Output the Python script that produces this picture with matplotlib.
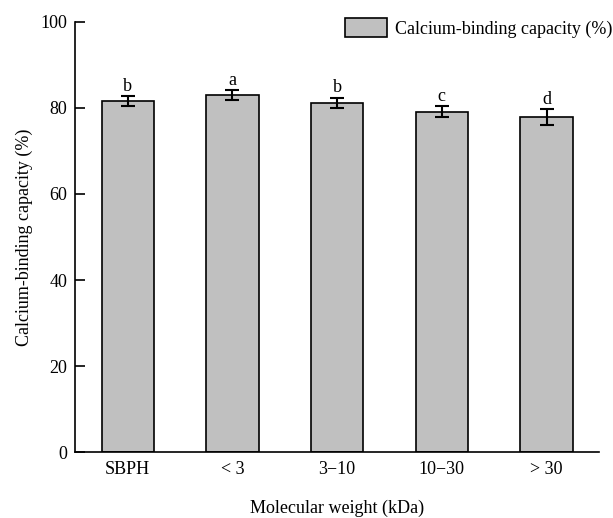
import matplotlib
matplotlib.use("Agg")
import matplotlib.pyplot as plt
import numpy as np

categories = ["SBPH", "< 3", "3\u221210", "10\u221230", "> 30"]
values = [81.6, 82.9, 81.2, 79.1, 77.9]
errors = [1.16, 1.16, 1.16, 1.24, 1.8]
letters = ["b", "a", "b", "c", "d"]

plt.rcParams['font.family'] = ['Liberation Serif', 'DejaVu Serif']
plt.rcParams['font.size'] = 13

fig = plt.figure(figsize=(6.13, 5.18), dpi=100)
ax = fig.add_axes([0.123, 0.127, 0.854, 0.831])
x = np.arange(len(categories))
ax.bar(x, values, width=0.5, color='#c0c0c0', edgecolor='black', linewidth=1.2,
       label='Calcium-binding capacity (%)', zorder=2)
ax.errorbar(x, values, yerr=errors, fmt='none', ecolor='black', elinewidth=1.5,
            capsize=5, capthick=1.5, zorder=3)
for xi, v, e, l in zip(x, values, errors, letters):
    ax.text(xi, v + e + 0.3, l, ha='center', va='bottom', fontsize=13)

ax.set_xlim(-0.5, 4.5)
ax.set_ylim(0, 100)
ax.set_yticks([0, 20, 40, 60, 80, 100])
ax.set_xticks(x)
ax.set_xticklabels(categories)
ax.tick_params(axis='y', direction='in', length=7, width=1.2, pad=6)
ax.tick_params(axis='x', length=0, pad=6)
ax.spines['top'].set_visible(False)
ax.spines['right'].set_visible(False)
ax.spines['left'].set_linewidth(1.2)
ax.spines['bottom'].set_linewidth(1.2)
ax.set_xlabel('Molecular weight (kDa)', labelpad=16)
ax.set_ylabel('Calcium-binding capacity (%)', labelpad=5)
ax.legend(loc='upper right', frameon=False, handlelength=2.35, handleheight=1.3,
          handletextpad=0.4, bbox_to_anchor=(1.039, 1.026), borderaxespad=0)

fig.savefig('out.png', dpi=100)
